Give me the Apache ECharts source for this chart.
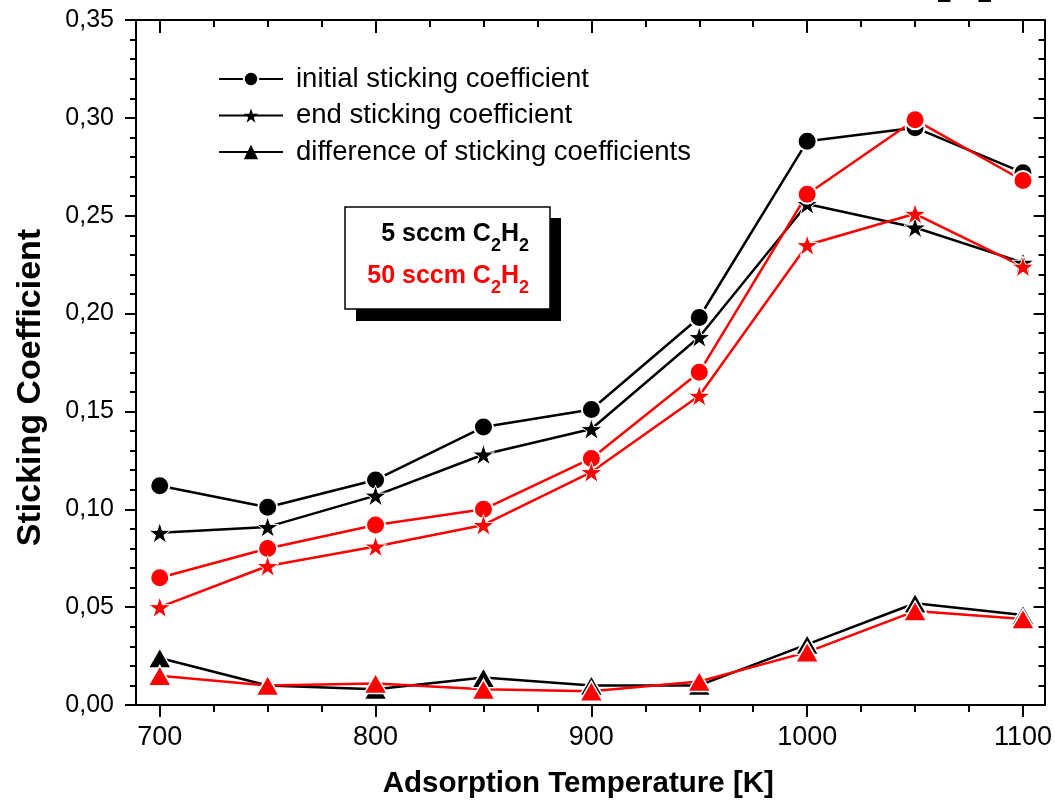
<!DOCTYPE html>
<html>
<head>
<meta charset="utf-8">
<script src="https://cdn.jsdelivr.net/npm/echarts@6/dist/echarts.min.js"></script>
<style>
html,body{margin:0;padding:0;background:#fff;}
#chart{width:1055px;height:807px;}
</style>
</head>
<body>
<div id="chart"></div>
<script>
// ---- data ----
const temps = [700, 750, 800, 850, 900, 950, 1000, 1050, 1100];
const init5  = [0.112, 0.101, 0.115, 0.142, 0.151, 0.198, 0.288, 0.295, 0.272];
const end5   = [0.088, 0.091, 0.107, 0.128, 0.141, 0.188, 0.256, 0.244, 0.226];
const diff5  = [0.024, 0.010, 0.008, 0.014, 0.010, 0.010, 0.031, 0.052, 0.046];
const init50 = [0.065, 0.080, 0.092, 0.100, 0.126, 0.170, 0.261, 0.299, 0.268];
const end50  = [0.050, 0.071, 0.081, 0.092, 0.119, 0.158, 0.235, 0.251, 0.224];
const diff50 = [0.015, 0.010, 0.011, 0.008, 0.007, 0.012, 0.027, 0.048, 0.044];
const xMajorTicks = [700, 800, 900, 1000, 1100];
const xMinorTicks = [725, 750, 775, 825, 850, 875, 925, 950, 975, 1025, 1050, 1075];
const legendNames = ['initial sticking coefficient', 'end sticking coefficient', 'difference of sticking coefficients'];

const FONT = 'Liberation Sans, Arial, sans-serif';
const STAR = 'path://M50 0 L61.23 34.55 L97.55 34.55 L68.17 55.9 L79.39 90.45 L50 69.1 L20.61 90.45 L31.83 55.9 L2.45 34.55 L38.77 34.55 Z';

function pairs(ys) { return temps.map((t, i) => [t, ys[i]]); }

function mkSeries(name, ys, color, symbol, size, border) {
  return {
    name: name,
    type: 'line',
    data: pairs(ys),
    symbol: symbol,
    symbolSize: size,
    symbolKeepAspect: true,
    showAllSymbol: true,
    lineStyle: { color: color, width: 2.5 },
    itemStyle: { color: color, borderColor: '#fff', borderWidth: border },
    emphasis: { disabled: true },
    animation: false
  };
}

const chart = echarts.init(document.getElementById('chart'));

const xCommon = { type: 'value', min: 689, max: 1110, splitLine: { show: false } };
const tickLine = { color: '#000', width: 2 };

const option = {
  backgroundColor: '#fff',
  animation: false,
  grid: { left: 136, right: 10, top: 20, bottom: 102 },
  legend: {
    data: [
      { name: legendNames[0] },
      { name: legendNames[1], itemStyle: { borderWidth: 0 } },
      { name: legendNames[2], itemStyle: { borderWidth: 0 } }
    ],
    orient: 'vertical',
    left: 218,
    top: 64,
    itemWidth: 64,
    itemHeight: 18,
    itemGap: 6.5,
    padding: 0,
    selectedMode: false,
    textStyle: { fontFamily: FONT, fontSize: 27.5, color: '#000', lineHeight: 30, padding: [0, 0, 0, 8] }
  },
  xAxis: [
    Object.assign({}, xCommon, {
      position: 'bottom',
      axisLine: { show: true, lineStyle: tickLine },
      axisTick: { show: true, inside: false, length: 12, lineStyle: tickLine, customValues: xMajorTicks },
      axisLabel: { show: true, customValues: xMajorTicks, fontFamily: FONT, fontSize: 27, color: '#000', margin: 19, formatter: v => String(v) },
      name: 'Adsorption Temperature [K]',
      nameLocation: 'middle',
      nameGap: 64,
      nameTextStyle: { fontFamily: FONT, fontSize: 29.5, fontWeight: 'bold', color: '#000', padding: [0, 24, 0, 0] }
    }),
    Object.assign({}, xCommon, {
      position: 'bottom',
      axisLine: { show: false },
      axisTick: { show: true, inside: false, length: 7, lineStyle: tickLine, customValues: xMinorTicks },
      axisLabel: { show: false }
    }),
    Object.assign({}, xCommon, {
      position: 'top',
      axisLine: { show: true, lineStyle: tickLine },
      axisTick: { show: true, inside: true, length: 13, lineStyle: tickLine, customValues: xMajorTicks },
      axisLabel: { show: false }
    }),
    Object.assign({}, xCommon, {
      position: 'top',
      axisLine: { show: false },
      axisTick: { show: true, inside: true, length: 7, lineStyle: tickLine, customValues: xMinorTicks },
      axisLabel: { show: false }
    })
  ],
  yAxis: [
    {
      type: 'value', position: 'left', min: 0, max: 0.35, interval: 0.05,
      splitLine: { show: false },
      axisLine: { show: true, lineStyle: tickLine },
      axisTick: { show: true, inside: false, length: 11, lineStyle: tickLine },
      minorTick: { show: true, splitNumber: 5, length: 6, lineStyle: tickLine },
      axisLabel: {
        fontFamily: FONT, fontSize: 25, color: '#000', margin: 22,
        formatter: v => v.toFixed(2).replace('.', ',')
      },
      name: 'Sticking Coefficient',
      nameLocation: 'middle',
      nameGap: 88,
      nameTextStyle: { fontFamily: FONT, fontSize: 34, fontWeight: 'bold', color: '#000', padding: [0, 50, 0, 0] }
    },
    {
      type: 'value', position: 'right', min: 0, max: 0.35, interval: 0.05,
      splitLine: { show: false },
      axisLine: { show: true, lineStyle: tickLine },
      axisTick: { show: true, inside: true, length: 11, lineStyle: tickLine },
      minorTick: { show: true, splitNumber: 5, length: 6, lineStyle: tickLine },
      axisLabel: { show: false }
    }
  ],
  series: [
    mkSeries(legendNames[0], init5, '#000000', 'circle', 19, 2),
    mkSeries(legendNames[1], end5, '#000000', STAR, 22, 1),
    mkSeries(legendNames[2], diff5, '#000000', 'triangle', [23, 20], 1.5),
    mkSeries('initial sticking coefficient (50 sccm)', init50, '#ff0000', 'circle', 19, 2),
    mkSeries('end sticking coefficient (50 sccm)', end50, '#ff0000', STAR, 22, 1),
    mkSeries('difference of sticking coefficients (50 sccm)', diff50, '#ff0000', 'triangle', [23, 20], 1.5)
  ],
  graphic: [
    { type: 'rect', shape: { x: 356, y: 218, width: 205, height: 103 }, style: { fill: '#000' }, z: 10 },
    { type: 'rect', shape: { x: 345, y: 207, width: 205, height: 102 }, style: { fill: '#fff', stroke: '#000', lineWidth: 1.5 }, z: 11 },
    {
      type: 'text', x: 529, y: 234, z: 12,
      style: {
        text: '5 sccm C{s|2}H{s|2}', align: 'right', verticalAlign: 'middle',
        fontFamily: FONT, fontSize: 25, fontWeight: 'bold', fill: '#000', lineHeight: 42,
        rich: { s: { fontFamily: FONT, fontSize: 18, fontWeight: 'bold', fill: '#000', lineHeight: 18, verticalAlign: 'bottom' } }
      }
    },
    {
      type: 'text', x: 529, y: 276, z: 12,
      style: {
        text: '50 sccm C{s|2}H{s|2}', align: 'right', verticalAlign: 'middle',
        fontFamily: FONT, fontSize: 25, fontWeight: 'bold', fill: '#ff0000', lineHeight: 42,
        rich: { s: { fontFamily: FONT, fontSize: 18, fontWeight: 'bold', fill: '#ff0000', lineHeight: 18, verticalAlign: 'bottom' } }
      }
    },
    {
      type: 'text', x: 992, y: 8, z: 12,
      style: {
        text: '{n|C}{s|2}{n|H}{s|2}', align: 'right', verticalAlign: 'bottom',
        rich: {
          n: { fontFamily: FONT, fontSize: 36, fontWeight: 'bold', fill: '#000', lineHeight: 48 },
          s: { fontFamily: FONT, fontSize: 26, fontWeight: 'bold', fill: '#000', lineHeight: 26, verticalAlign: 'bottom' }
        }
      }
    }
  ]
};

chart.setOption(option);
</script>
</body>
</html>
